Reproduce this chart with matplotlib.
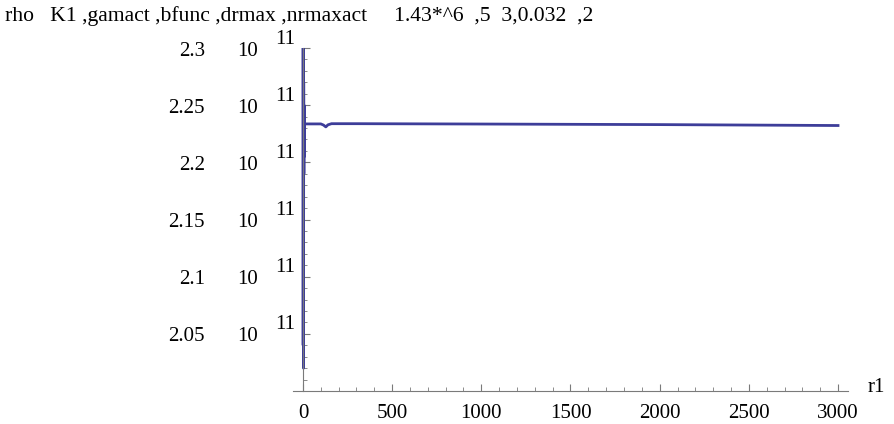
import matplotlib.pyplot as plt
from matplotlib.ticker import MultipleLocator, NullFormatter
from matplotlib.transforms import offset_copy

plt.rcParams['font.family'] = ['Liberation Serif', 'DejaVu Serif']

# data (rho in units of 1e11)
r1 = [0, 1, 2, 3, 4, 5, 6, 7, 8, 10, 20, 60, 100, 115, 128, 140, 160, 300,
      1000, 2000, 3000]
rho = [2.32, 2.04, 2.30, 2.02, 2.27, 2.19, 2.25, 2.205, 2.236, 2.2335, 2.2336,
       2.2336, 2.2336, 2.2326, 2.2310, 2.2328, 2.2338, 2.2338,
       2.2335, 2.2330, 2.2322]
rho = [v * 1e11 for v in rho]

y_ticks = [2.05, 2.1, 2.15, 2.2, 2.25, 2.3]
y_mant = ['2.05', '2.1', '2.15', '2.2', '2.25', '2.3']
x_ticks = [0, 500, 1000, 1500, 2000, 2500, 3000]

title = 'rho   K1 ,gamact ,bfunc ,drmax ,nrmaxact     1.43*^6  ,5  3,0.032  ,2'

W, H = 895, 424
fig = plt.figure(figsize=(W / 100, H / 100), dpi=100)
ax = fig.add_axes([293 / W, (H - 391) / H, (848 - 293) / W, (391 - 48) / H])

ax.plot(r1, rho, color='#3d3d99', lw=2.0, clip_on=True)

ax.set_xlim(-56, 3056)
ax.set_ylim(2.0e11, 2.30e11)

grey = '#7a7a7a'
for s in ['top', 'right']:
    ax.spines[s].set_visible(False)
ax.spines['left'].set_position(('data', 0))
ax.spines['left'].set_color(grey)
ax.spines['bottom'].set_color(grey)
ax.spines['left'].set_linewidth(0.8)
ax.spines['bottom'].set_linewidth(0.8)

ax.xaxis.set_major_locator(MultipleLocator(500))
ax.xaxis.set_minor_locator(MultipleLocator(100))
ax.set_xticks(x_ticks)
ax.set_xticklabels([str(t) for t in x_ticks])
ax.tick_params(axis='x', which='major', direction='in', length=5, color=grey,
               labelsize=15, pad=9)
ax.tick_params(axis='x', which='minor', direction='in', length=3, color=grey)

ax.set_yticks([t * 1e11 for t in y_ticks])
ax.yaxis.set_minor_locator(MultipleLocator(0.01e11))
ax.yaxis.set_major_formatter(NullFormatter())
ax.tick_params(axis='y', which='major', direction='in', length=5, color=grey)
ax.tick_params(axis='y', which='minor', direction='in', length=3, color=grey)
ax.yaxis.get_offset_text().set_visible(False)

# y tick labels in the "2.3  10  11" style
tr = ax.get_yaxis_transform()
tr_low = offset_copy(tr, fig=fig, x=0, y=-3, units='dots')
tr_up = offset_copy(tr, fig=fig, x=0, y=9, units='dots')
for t, m in zip(y_ticks, y_mant):
    ax.text((205 - 293) / 555, t * 1e11, m, transform=tr_low, ha='right',
            va='center', fontsize=15)
    ax.text((237 - 293) / 555, t * 1e11, '10', transform=tr_low, ha='left',
            va='center', fontsize=15)
    ax.text((275 - 293) / 555, t * 1e11, '11', transform=tr_up, ha='left',
            va='center', fontsize=15)

ax.text(1.035, 0.01, 'r1', transform=ax.transAxes, ha='left', va='center',
        fontsize=15)

fig.text(5 / W, 1 - 16 / H, title, ha='left', va='center', fontsize=15.6)

fig.savefig('out.png', dpi=100)
